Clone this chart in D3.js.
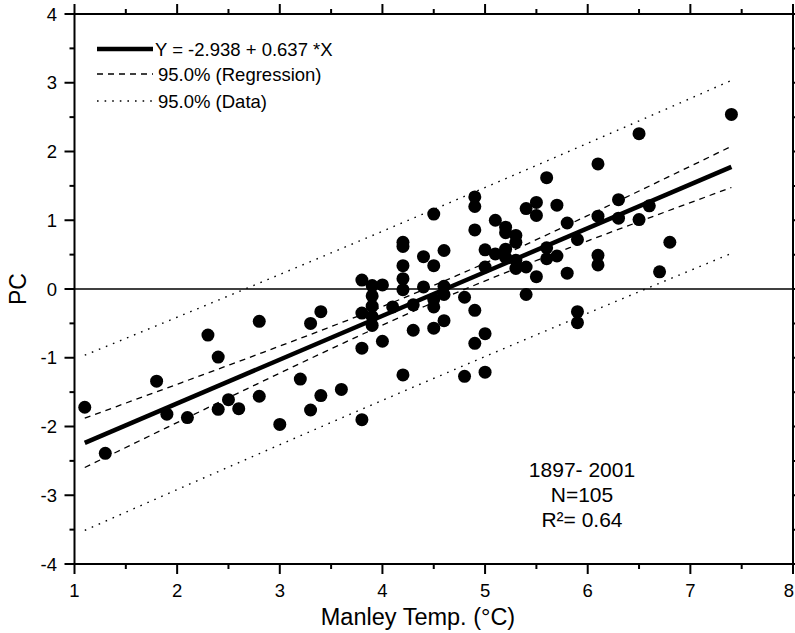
<!DOCTYPE html>
<html>
<head>
<meta charset="utf-8">
<script src="https://cdn.jsdelivr.net/npm/d3@7"></script>
<style>
  body { margin: 0; background: #fff; }
  svg { font-family: "Liberation Sans", Arial, sans-serif; }
</style>
</head>
<body>
<div id="chart"></div>
<script>
// Manley temperature (°C) vs PC
const temps = [
  1.1, 1.3, 1.8, 1.9, 2.1, 2.3, 2.4, 2.4, 2.5, 2.6,
  2.8, 2.8, 3.0, 3.2, 3.3, 3.3, 3.4, 3.4, 3.6, 3.8,
  3.8, 3.8, 3.8, 3.9, 3.9, 3.9, 3.9, 3.9, 4.0, 4.0,
  4.1, 4.2, 4.2, 4.2, 4.2, 4.2, 4.2, 4.3, 4.3, 4.4,
  4.4, 4.5, 4.5, 4.5, 4.5, 4.5, 4.6, 4.6, 4.6, 4.6,
  4.8, 4.8, 4.9, 4.9, 4.9, 4.9, 4.9, 5.0, 5.0, 5.0,
  5.0, 5.1, 5.1, 5.2, 5.2, 5.2, 5.2, 5.3, 5.3, 5.3,
  5.3, 5.4, 5.4, 5.4, 5.5, 5.5, 5.5, 5.6, 5.6, 5.6,
  5.7, 5.7, 5.8, 5.8, 5.9, 5.9, 5.9, 6.1, 6.1, 6.1,
  6.1, 6.3, 6.3, 6.5, 6.5, 6.6, 6.7, 6.8, 7.4
];
const pcValues = [
  -1.72, -2.39, -1.34, -1.82, -1.87, -0.67, -0.99, -1.75, -1.61, -1.74,
  -0.47, -1.56, -1.97, -1.31, -0.50, -1.76, -0.33, -1.55, -1.46, 0.13,
  -0.35, -0.86, -1.90, 0.05, -0.10, -0.25, -0.40, -0.53, 0.06, -0.76,
  -0.26, 0.68, 0.62, 0.34, 0.15, -0.01, -1.25, -0.23, -0.60, 0.47,
  0.03, 1.09, 0.34, -0.15, -0.26, -0.57, 0.56, 0.04, -0.08, -0.46,
  -0.12, -1.27, 1.34, 1.20, 0.86, -0.31, -0.79, 0.57, 0.32, -0.65,
  -1.21, 1.00, 0.51, 0.90, 0.82, 0.58, 0.46, 0.78, 0.68, 0.42,
  0.30, 1.17, 0.32, -0.08, 1.26, 1.07, 0.18, 1.62, 0.60, 0.44,
  1.22, 0.48, 0.96, 0.23, 0.72, -0.33, -0.49, 1.82, 1.06, 0.49,
  0.35, 1.30, 1.03, 2.26, 1.01, 1.21, 0.25, 0.68, 2.54
];

const intercept = -2.938;
const slope = 0.637;
const tValue = 1.983;

const xTicks = [1, 2, 3, 4, 5, 6, 7, 8];
const yTicks = [-4, -3, -2, -1, 0, 1, 2, 3, 4];
const legendLabels = ["Y = -2.938 + 0.637 *X", "95.0% (Regression)", "95.0% (Data)"];
const noteLines = ["1897- 2001", "N=105", "R\u00b2= 0.64"];

const W = 795, H = 633;
const plot = { left: 74.5, right: 793, top: 14, bottom: 564 };

const svg = d3.select("#chart").append("svg")
  .attr("width", W)
  .attr("height", H);

const x = d3.scaleLinear().domain([1, 8]).range([plot.left, plot.right]);
const y = d3.scaleLinear().domain([-4, 4]).range([plot.bottom, plot.top]);

const data = temps.map((t, i) => ({ x: t, y: pcValues[i] }));

// residual spread about the reported fit, used for the 95% bands
const n = data.length;
const xMean = d3.mean(data, d => d.x);
const sxx = d3.sum(data, d => (d.x - xMean) ** 2);
const sse = d3.sum(data, d => (d.y - (intercept + slope * d.x)) ** 2);
const s = Math.sqrt(sse / (n - 2));

const xMin = d3.min(temps), xMax = d3.max(temps);
const xs = d3.range(0, 41).map(i => xMin + (xMax - xMin) * i / 40);
const fit = v => intercept + slope * v;
const confHalf = v => tValue * s * Math.sqrt(1 / n + (v - xMean) ** 2 / sxx);
const predHalf = v => tValue * s * Math.sqrt(1 + 1 / n + (v - xMean) ** 2 / sxx);

const line = d3.line().x(d => x(d[0])).y(d => y(d[1]));

// zero line
svg.append("line")
  .attr("x1", plot.left).attr("x2", plot.right)
  .attr("y1", y(0)).attr("y2", y(0))
  .attr("stroke", "#000").attr("stroke-width", 1.5);

// bands
const bandStyles = [
  { f: confHalf, dash: "6,5", w: 1.3 },
  { f: predHalf, dash: "1.6,6", w: 1.4 }
];
bandStyles.forEach(b => {
  [1, -1].forEach(sign => {
    svg.append("path")
      .datum(xs.map(v => [v, fit(v) + sign * b.f(v)]))
      .attr("d", line)
      .attr("fill", "none")
      .attr("stroke", "#000")
      .attr("stroke-width", b.w)
      .attr("stroke-dasharray", b.dash);
  });
});

// fit line
svg.append("path")
  .datum([[xMin, fit(xMin)], [xMax, fit(xMax)]])
  .attr("d", line)
  .attr("fill", "none")
  .attr("stroke", "#000")
  .attr("stroke-width", 4.5);

// points
svg.selectAll("circle.pt")
  .data(data)
  .enter().append("circle")
  .attr("class", "pt")
  .attr("cx", d => x(d.x))
  .attr("cy", d => y(d.y))
  .attr("r", 6.5)
  .attr("fill", "#000");

// frame and axes
const frame = svg.append("g");
frame.append("rect")
  .attr("x", plot.left).attr("y", plot.top)
  .attr("width", plot.right - plot.left)
  .attr("height", plot.bottom - plot.top)
  .attr("fill", "none")
  .attr("stroke", "#000")
  .attr("stroke-width", 2);

const xMinor = d3.range(1.5, 8, 1);
const yMinor = d3.range(-3.5, 4, 1);

function ticksH(vals, yPos, dir, len) {
  frame.selectAll(null).data(vals).enter().append("line")
    .attr("x1", d => x(d)).attr("x2", d => x(d))
    .attr("y1", yPos).attr("y2", yPos + dir * len)
    .attr("stroke", "#000").attr("stroke-width", 2);
}
function ticksV(vals, xPos, dir, len) {
  frame.selectAll(null).data(vals).enter().append("line")
    .attr("y1", d => y(d)).attr("y2", d => y(d))
    .attr("x1", xPos).attr("x2", xPos + dir * len)
    .attr("stroke", "#000").attr("stroke-width", 2);
}
ticksH(xTicks, plot.bottom, 1, 10);
ticksH(xMinor, plot.bottom, 1, 5);
ticksH(xTicks, plot.top, -1, 10);
ticksH(xMinor, plot.top, -1, 5);
ticksV(yTicks, plot.left, -1, 10);
ticksV(yMinor, plot.left, -1, 5);
ticksV(yTicks, plot.right, 1, 10);
ticksV(yMinor, plot.right, 1, 5);

// last label sits against the right edge, keep it inside the page
frame.selectAll("text.xt").data(xTicks).enter().append("text")
  .attr("class", "xt")
  .attr("x", d => Math.min(x(d), W - 6)).attr("y", 597)
  .attr("text-anchor", "middle")
  .attr("font-size", 18.5)
  .text(d => d);

frame.selectAll("text.yt").data(yTicks).enter().append("text")
  .attr("class", "yt")
  .attr("x", 57).attr("y", d => y(d) + 6.5)
  .attr("text-anchor", "end")
  .attr("font-size", 18.5)
  .text(d => d);

svg.append("text")
  .attr("x", 418).attr("y", 625)
  .attr("text-anchor", "middle")
  .attr("font-size", 23.5)
  .text("Manley Temp. (\u00b0C)");

svg.append("text")
  .attr("transform", `translate(26,${y(0)}) rotate(-90)`)
  .attr("text-anchor", "middle")
  .attr("font-size", 23)
  .text("PC");

// legend
const legendRows = [
  { y: 49, dash: null, w: 4.5, tx: 155 },
  { y: 74, dash: "6,5", w: 1.3, tx: 158 },
  { y: 101, dash: "1.6,6", w: 1.4, tx: 158 }
];
legendRows.forEach((r, i) => {
  svg.append("line")
    .attr("x1", 97).attr("x2", 153)
    .attr("y1", r.y).attr("y2", r.y)
    .attr("stroke", "#000")
    .attr("stroke-width", r.w)
    .attr("stroke-dasharray", r.dash);
  svg.append("text")
    .attr("x", r.tx).attr("y", r.y + 6.5)
    .attr("font-size", 18.5)
    .text(legendLabels[i]);
});

// note
svg.selectAll("text.note").data(noteLines).enter().append("text")
  .attr("class", "note")
  .attr("x", 582).attr("y", (d, i) => 477 + i * 25)
  .attr("text-anchor", "middle")
  .attr("font-size", 21)
  .text(d => d);
</script>
</body>
</html>
